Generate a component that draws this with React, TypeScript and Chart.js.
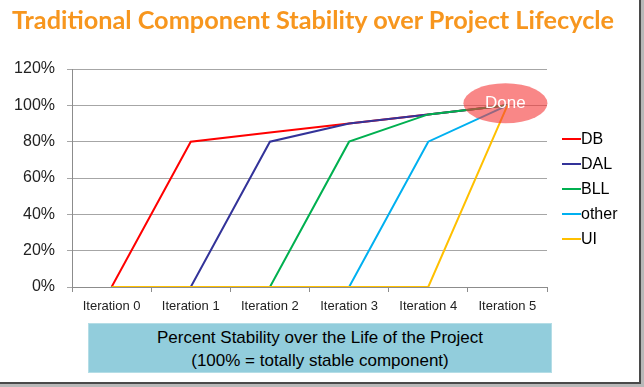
import React, { useEffect, useLayoutEffect, useRef } from "react";
import { Chart, registerables } from "chart.js";

Chart.register(...registerables);

const titleText = "Traditional Component Stability over Project Lifecycle";
const categories = ["Iteration 0", "Iteration 1", "Iteration 2", "Iteration 3", "Iteration 4", "Iteration 5"];
const seriesNames = ["DB", "DAL", "BLL", "other", "UI"];
const seriesColors = ["#FF0000", "#333399", "#00B050", "#00B0F0", "#FFC000"];
const dbValues = [0, 0.8, 0.85, 0.9, 0.95, 1.0];
const dalValues = [0, 0, 0.8, 0.9, 0.95, 1.0];
const bllValues = [0, 0, 0, 0.8, 0.95, 1.0];
const otherValues = [0, 0, 0, 0, 0.8, 1.0];
const uiValues = [0, 0, 0, 0, 0, 1.0];
const yMin = 0;
const yMax = 1.2;
const yStep = 0.2;
const doneLabel = "Done";
const doneIndex = 5;
const doneValue = 1.0;
const captionLines = ["Percent Stability over the Life of the Project", "(100% = totally stable component)"];

const FONT = '"Liberation Sans", Arial, sans-serif';

const legendPlugin = {
  id: "customLegend",
  afterDraw(chart: any) {
    const ctx = chart.ctx;
    const area = chart.chartArea;
    const ds = chart.data.datasets;
    const cx = area.right + 15;
    const cy = (area.top + area.bottom) / 2 + 11;
    const gap = 25;
    ctx.save();
    ctx.font = `16px ${FONT}`;
    ctx.textBaseline = "middle";
    ctx.textAlign = "left";
    ds.forEach((d: any, i: number) => {
      const y = cy + (i - (ds.length - 1) / 2) * gap;
      ctx.strokeStyle = d.borderColor;
      ctx.lineWidth = 2;
      ctx.beginPath();
      ctx.moveTo(cx, y);
      ctx.lineTo(cx + 19, y);
      ctx.stroke();
      ctx.fillStyle = "#000";
      ctx.fillText(d.label, cx + 19, y + 1);
    });
    ctx.restore();
  },
};

const donePlugin = {
  id: "doneMarker",
  afterDatasetsDraw(chart: any) {
    const ctx = chart.ctx;
    const x = chart.scales.x.getPixelForValue(doneIndex) - 2;
    const y = chart.scales.y.getPixelForValue(doneValue) - 2;
    ctx.save();
    ctx.beginPath();
    ctx.ellipse(x, y, 42, 20, 0, 0, Math.PI * 2);
    ctx.fillStyle = "rgba(245, 55, 55, 0.6)";
    ctx.fill();
    ctx.fillStyle = "#FFFFFF";
    ctx.font = `17px ${FONT}`;
    ctx.textAlign = "center";
    ctx.textBaseline = "middle";
    ctx.fillText(doneLabel, x, y);
    ctx.restore();
  },
};

export default function App() {
  const canvasRef = useRef<HTMLCanvasElement | null>(null);
  const titleRef = useRef<HTMLDivElement | null>(null);

  useLayoutEffect(() => {
    const el = titleRef.current;
    if (el) {
      const w = el.scrollWidth;
      if (w > 0) el.style.transform = `scaleX(${602 / w})`;
    }
  }, []);

  useEffect(() => {
    if (!canvasRef.current) return;
    const values = [dbValues, dalValues, bllValues, otherValues, uiValues];
    const chart = new Chart(canvasRef.current, {
      type: "line",
      data: {
        labels: categories,
        datasets: seriesNames.map((name, i) => ({
          label: name,
          data: values[i],
          borderColor: seriesColors[i],
          backgroundColor: seriesColors[i],
          borderWidth: 2,
          pointRadius: 0,
          tension: 0,
          order: seriesNames.length - 1 - i,
        })),
      },
      options: {
        responsive: false,
        animation: false,
        layout: { padding: { left: 0, top: 69, right: 97, bottom: 0 } },
        plugins: {
          legend: { display: false },
          tooltip: { enabled: false },
          title: { display: false },
        },
        scales: {
          x: {
            type: "category",
            offset: true,
            grid: {
              offset: true,
              drawOnChartArea: false,
              drawTicks: true,
              tickLength: 5,
              color: "#8C8C8C",
            },
            border: { color: "#8C8C8C" },
            ticks: {
              font: { family: FONT, size: 13 },
              color: "#222",
              padding: 7,
              maxRotation: 0,
              autoSkip: false,
            },
            afterFit: (scale: any) => {
              scale.height = 100;
            },
          },
          y: {
            min: yMin,
            max: yMax,
            grid: {
              color: "#A6A6A6",
              tickLength: 5,
              drawTicks: true,
            },
            border: { color: "#8C8C8C" },
            ticks: {
              stepSize: yStep,
              font: { family: FONT, size: 16 },
              color: "#222",
              padding: 12,
              callback: (v: any) => `${Math.round(Number(v) * 100)}%`,
            },
            afterFit: (scale: any) => {
              scale.width = 72;
            },
          },
        },
      },
      plugins: [donePlugin, legendPlugin],
    });
    return () => chart.destroy();
  }, []);

  return (
    <div
      style={{
        position: "absolute",
        left: 0,
        top: 0,
        width: 644,
        height: 387,
        background: "#fff",
        overflow: "hidden",
      }}
    >
      <canvas ref={canvasRef} width={644} height={387} style={{ position: "absolute", left: 0, top: 0 }} />
      <div
        ref={titleRef}
        style={{
          position: "absolute",
          left: 12,
          top: 8,
          whiteSpace: "nowrap",
          fontFamily: "Lato, sans-serif",
          fontWeight: 700,
          fontSize: 24,
          lineHeight: "24px",
          color: "#F7961E",
          transformOrigin: "0 0",
        }}
      >
        {titleText}
      </div>
      <div
        style={{
          position: "absolute",
          left: 88,
          top: 323,
          width: 464,
          height: 50,
          boxSizing: "border-box",
          background: "#92CDDC",
          border: "1px solid #B4DDE6",
          fontFamily: FONT,
          fontSize: 17,
          lineHeight: "23px",
          color: "#000",
          textAlign: "center",
          paddingTop: 2,
        }}
      >
        <div>{captionLines[0]}</div>
        <div>{captionLines[1]}</div>
      </div>
      <div style={{ position: "absolute", left: 639, top: 0, width: 2, height: 384, background: "#4A4A4A" }} />
      <div style={{ position: "absolute", left: 641, top: 0, width: 3, height: 387, background: "#B8B8B8" }} />
      <div style={{ position: "absolute", left: 0, top: 382, width: 641, height: 2, background: "#4A4A4A" }} />
      <div style={{ position: "absolute", left: 0, top: 384, width: 644, height: 3, background: "#B8B8B8" }} />
    </div>
  );
}
